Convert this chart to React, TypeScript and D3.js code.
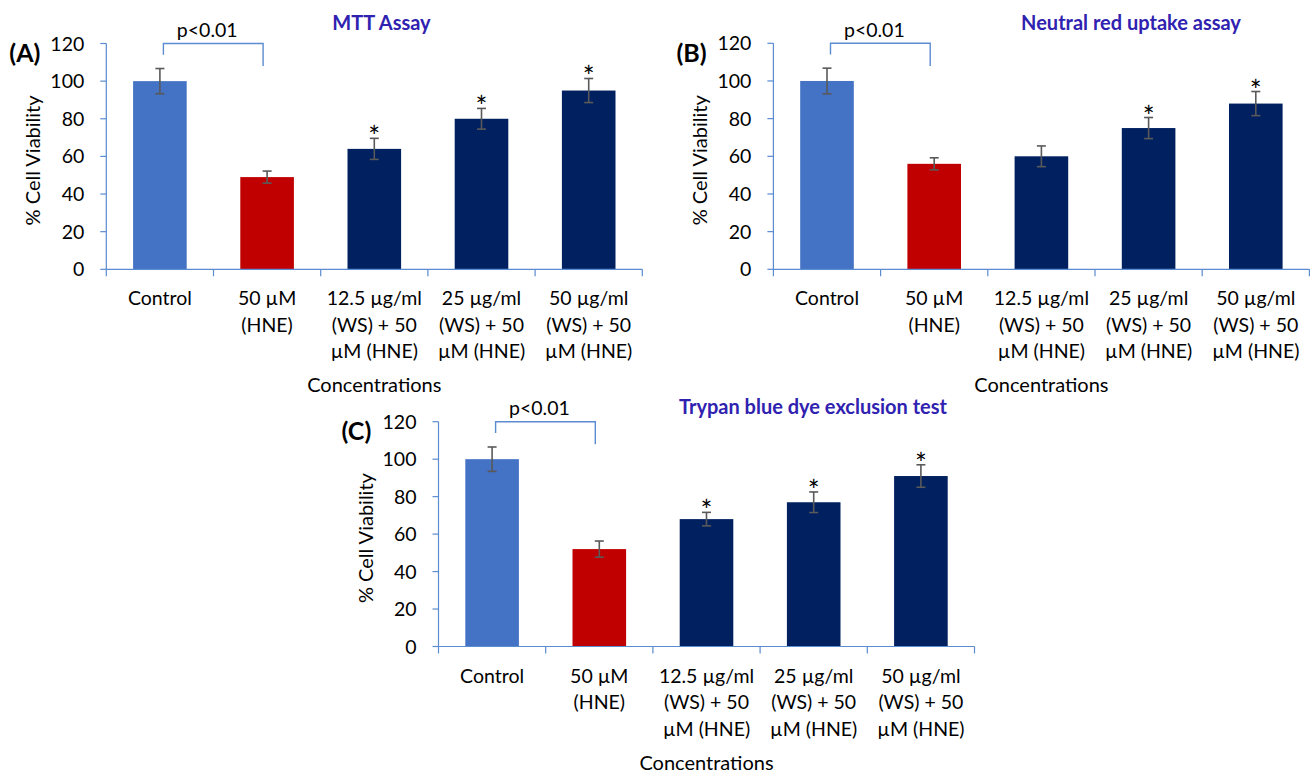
import React from "react";
import * as d3 from "d3";

// Treatment groups (multi-line axis labels)
const categories = [
  "Control",
  "50 µM\n(HNE)",
  "12.5 µg/ml\n(WS) + 50\nµM (HNE)",
  "25 µg/ml\n(WS) + 50\nµM (HNE)",
  "50 µg/ml\n(WS) + 50\nµM (HNE)",
];

const yTicks = [0, 20, 40, 60, 80, 100, 120];

// (A) MTT assay
const mttMeans = [100, 49, 64, 80, 95];
const mttErrors = [6.7, 3.2, 5.6, 5.5, 6.4];
const mttSignificant = [false, false, true, true, true];

// (B) Neutral red uptake assay
const neutralRedMeans = [100, 56, 60, 75, 88];
const neutralRedErrors = [6.8, 3.2, 5.5, 5.6, 6.4];
const neutralRedSignificant = [false, false, false, true, true];

// (C) Trypan blue dye exclusion test
const trypanMeans = [100, 52, 68, 77, 91];
const trypanErrors = [6.5, 4.3, 3.6, 5.5, 6.0];
const trypanSignificant = [false, false, true, true, true];

const barColors = ["#4472C4", "#C00000", "#002060", "#002060", "#002060"];

const FONT = "Lato, 'Open Sans', sans-serif";
const AXIS_COLOR = "#5B8BD0";

type PanelProps = {
  tag: string;
  title: string;
  means: number[];
  errors: number[];
  significant: boolean[];
  left: number;
  top: number;
  bottom: number;
  width: number;
  titleX: number;
  titleY: number;
};

function Panel(p: PanelProps) {
  const x = d3
    .scaleBand<string>()
    .domain(categories)
    .range([p.left, p.left + p.width])
    .paddingInner(0.5)
    .paddingOuter(0.25);
  const y = d3.scaleLinear().domain([0, 120]).range([p.bottom, p.top]);
  const step = x.step();
  const bw = x.bandwidth();
  const boundaries = d3.range(categories.length + 1).map((i) => p.left + i * step);

  const cx = (c: string) => (x(c) as number) + bw / 2;
  const bracketL = cx(categories[0]) + 3.5;
  const bracketR = cx(categories[1]) - 4;

  return (
    <g fontFamily={FONT}>
      {/* panel tag and title */}
      <text x={p.left - 97} y={y(120) + 18.5} fontSize={25} fontWeight={700} fill="#000">
        {p.tag}
      </text>
      <text
        x={p.titleX}
        y={p.titleY}
        fontSize={20}
        fontWeight={700}
        fill="#3022B0"
        textAnchor="middle"
      >
        {p.title}
      </text>

      {/* bars */}
      {categories.map((c, i) => (
        <rect
          key={c}
          x={x(c)}
          y={y(p.means[i])}
          width={bw}
          height={y(0) - y(p.means[i])}
          fill={barColors[i]}
        />
      ))}

      {/* error bars */}
      {categories.map((c, i) => {
        const hi = y(p.means[i] + p.errors[i]);
        const lo = y(p.means[i] - p.errors[i]);
        const m = cx(c);
        return (
          <g key={c} stroke="#595959" strokeWidth={1.6}>
            <line x1={m} x2={m} y1={hi} y2={lo} />
            <line x1={m - 4.5} x2={m + 4.5} y1={hi} y2={hi} />
            <line x1={m - 4.5} x2={m + 4.5} y1={lo} y2={lo} />
          </g>
        );
      })}

      {/* significance stars */}
      {categories.map((c, i) =>
        p.significant[i] ? (
          <text
            key={c}
            x={cx(c)}
            y={y(p.means[i] + p.errors[i]) + 9}
            fontSize={28}
            textAnchor="middle"
            fill="#000"
          >
            *
          </text>
        ) : null
      )}

      {/* bracket comparing control vs HNE */}
      <path
        d={`M${bracketL},${y(114)}V${y(120)}H${bracketR}V${y(108)}`}
        fill="none"
        stroke={AXIS_COLOR}
        strokeWidth={1.4}
      />
      <text
        x={(bracketL + bracketR) / 2 - 6}
        y={y(120) - 6.5}
        fontSize={19.5}
        textAnchor="middle"
        fill="#000"
      >
        p&lt;0.01
      </text>

      {/* y axis */}
      <line x1={p.left} x2={p.left} y1={y(120)} y2={y(0)} stroke={AXIS_COLOR} strokeWidth={1.2} />
      {yTicks.map((t) => (
        <g key={t}>
          <line x1={p.left - 6} x2={p.left} y1={y(t)} y2={y(t)} stroke={AXIS_COLOR} strokeWidth={1.2} />
          <text
            x={p.left - 22}
            y={y(t)}
            dy="0.36em"
            fontSize={19.5}
            textAnchor="end"
            fill="#000"
          >
            {t}
          </text>
        </g>
      ))}
      <text
        transform={`translate(${p.left - 66},${(p.top + p.bottom) / 2 + 4}) rotate(-90)`}
        fontSize={20}
        textAnchor="middle"
        fill="#000"
      >
        % Cell Viability
      </text>

      {/* x axis */}
      <line
        x1={p.left}
        x2={p.left + p.width}
        y1={y(0)}
        y2={y(0)}
        stroke={AXIS_COLOR}
        strokeWidth={1.2}
      />
      {boundaries.map((b, i) => (
        <line key={i} x1={b} x2={b} y1={y(0)} y2={y(0) + 7} stroke={AXIS_COLOR} strokeWidth={1.2} />
      ))}
      {categories.map((c) => (
        <text key={c} x={cx(c)} fontSize={19.5} textAnchor="middle" fill="#000">
          {c.split("\n").map((line, j) => (
            <tspan key={j} x={cx(c)} y={y(0) + 36 + j * 26.5}>
              {line}
            </tspan>
          ))}
        </text>
      ))}
      <text
        x={p.left + p.width / 2}
        y={y(0) + 123}
        fontSize={20}
        textAnchor="middle"
        fill="#000"
      >
        Concentrations
      </text>
    </g>
  );
}

export default function App() {
  return (
    <svg
      width={1314}
      height={773}
      style={{ position: "absolute", left: 0, top: 0, background: "#fff" }}
    >
      <rect width={1314} height={773} fill="#fff" />
      <Panel
        tag="(A)"
        title="MTT Assay"
        means={mttMeans}
        errors={mttErrors}
        significant={mttSignificant}
        left={106.3}
        top={43.5}
        bottom={269.3}
        width={536}
        titleX={381.5}
        titleY={29.5}
      />
      <Panel
        tag="(B)"
        title="Neutral red uptake assay"
        means={neutralRedMeans}
        errors={neutralRedErrors}
        significant={neutralRedSignificant}
        left={773.4}
        top={43.3}
        bottom={269.3}
        width={536}
        titleX={1131}
        titleY={29.5}
      />
      <Panel
        tag="(C)"
        title="Trypan blue dye exclusion test"
        means={trypanMeans}
        errors={trypanErrors}
        significant={trypanSignificant}
        left={438.5}
        top={421.7}
        bottom={646.5}
        width={536}
        titleX={813}
        titleY={413.5}
      />
    </svg>
  );
}
